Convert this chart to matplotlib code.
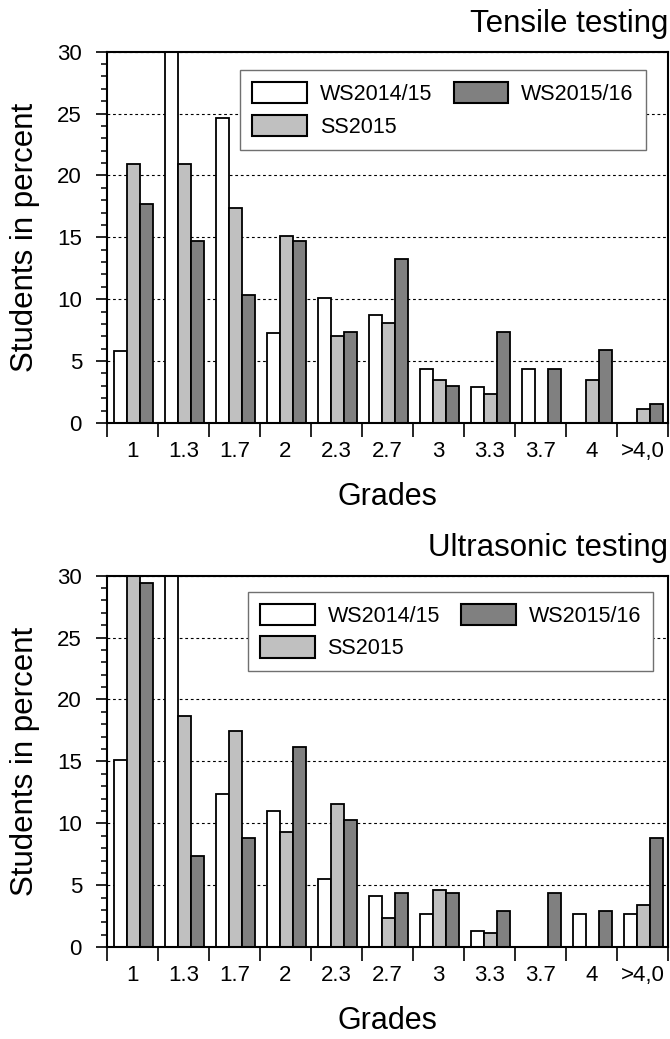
import matplotlib
matplotlib.use("Agg")
import matplotlib.pyplot as plt
import numpy as np
from matplotlib.patches import Patch
from matplotlib.ticker import MultipleLocator, FixedLocator, NullFormatter, FixedFormatter

plt.rcParams['font.family'] = ['Liberation Sans', 'DejaVu Sans']

grades = ['1', '1.3', '1.7', '2', '2.3', '2.7', '3', '3.3', '3.7', '4', '>4,0']
semesters = ['WS2014/15', 'SS2015', 'WS2015/16']
colors = ['white', '#c0c0c0', '#808080']

# tensile testing (percent of students)
tensile_ws1415 = [5.8, 31.0, 24.6, 7.3, 10.1, 8.7, 4.4, 2.9, 4.4, 0, 0]
tensile_ss15 = [20.9, 20.9, 17.4, 15.1, 7.0, 8.1, 3.5, 2.35, 0, 3.5, 1.15]
tensile_ws1516 = [17.7, 14.7, 10.3, 14.7, 7.35, 13.25, 2.95, 7.35, 4.4, 5.9, 1.5]

# ultrasonic testing
ultra_ws1415 = [15.1, 31.0, 12.35, 11.0, 5.5, 4.1, 2.7, 1.35, 0, 2.7, 2.7]
ultra_ss15 = [31.0, 18.65, 17.45, 9.3, 11.6, 2.35, 4.65, 1.15, 0, 0, 3.45]
ultra_ws1516 = [29.4, 7.35, 8.8, 16.2, 10.3, 4.4, 4.4, 2.95, 4.4, 2.95, 8.8]


def draw(ax, series, title, legend_anchor):
    x = np.arange(len(grades))
    w = 0.25
    for i, (vals, c) in enumerate(zip(series, colors)):
        ax.bar(x + (i - 1) * w + 0.02, vals, w, color=c, edgecolor='black',
               linewidth=1.3, zorder=2)
    ax.set_xlim(-0.5, len(grades) - 0.5)
    ax.set_ylim(0, 30)

    # x: ticks between the groups, labels under the groups
    ax.xaxis.set_major_locator(FixedLocator(np.arange(-0.5, len(grades), 1.0)))
    ax.xaxis.set_major_formatter(NullFormatter())
    ax.xaxis.set_minor_locator(FixedLocator(x))
    ax.xaxis.set_minor_formatter(FixedFormatter(grades))
    ax.tick_params(axis='x', which='major', direction='out', length=10, width=1.2)
    ax.tick_params(axis='x', which='minor', length=0, pad=13, labelsize=16)

    ax.yaxis.set_major_locator(MultipleLocator(5))
    ax.yaxis.set_minor_locator(MultipleLocator(1))
    ax.tick_params(axis='y', which='major', direction='out', length=8, width=1.2,
                   pad=10, labelsize=16)
    ax.tick_params(axis='y', which='minor', direction='out', length=4.5, width=1.1)

    ax.yaxis.grid(True, which='major', linestyle=(0, (2.5, 2.5)), color='black', lw=0.8)
    ax.set_axisbelow(True)
    for s in ax.spines.values():
        s.set_linewidth(1.5)

    ax.set_xlabel('Grades', fontsize=22)
    ax.xaxis.set_label_coords(0.5, -0.158)
    ax.set_ylabel('Students in percent', fontsize=22.5)
    ax.yaxis.set_label_coords(-0.12, 0.5)

    ax.text(1.0, 1.052, title, transform=ax.transAxes, ha='right', va='baseline',
            fontsize=22.5)

    handles = [Patch(facecolor=c, edgecolor='black', linewidth=1.5) for c in colors]
    leg = ax.legend(handles, semesters, ncol=2, loc='upper left',
                    bbox_to_anchor=legend_anchor, borderaxespad=0, fontsize=15.5,
                    handlelength=2.55, handleheight=1.15, handletextpad=0.6,
                    columnspacing=1.0, labelspacing=0.45, borderpad=0.55,
                    fancybox=False, framealpha=1)
    leg.get_frame().set_edgecolor('#707070')
    leg.get_frame().set_linewidth(1.0)


fig = plt.figure(figsize=(6.7, 10.39), dpi=100)
ax1 = fig.add_axes([0.1597, 0.5929, 0.8373, 0.3574])
ax2 = fig.add_axes([0.1597, 0.0883, 0.8373, 0.3577])

draw(ax1, [tensile_ws1415, tensile_ss15, tensile_ws1516], 'Tensile testing', (0.237, 0.95))
draw(ax2, [ultra_ws1415, ultra_ss15, ultra_ws1516], 'Ultrasonic testing', (0.251, 0.956))

plt.savefig('out.png', dpi=100)
plt.close()
